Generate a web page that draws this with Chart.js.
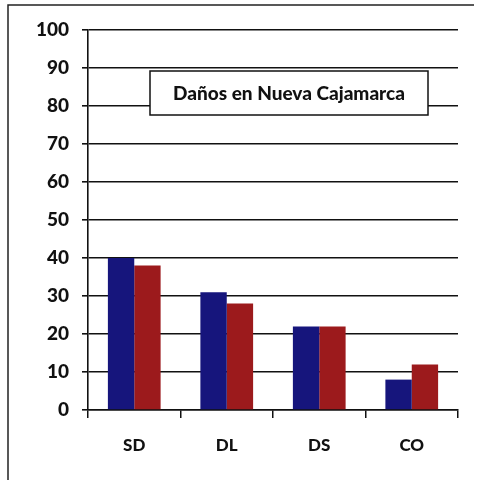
<!DOCTYPE html>
<html>
<head>
<meta charset="utf-8">
<script src="https://cdn.jsdelivr.net/npm/chart.js@4"></script>
<style>
  html, body { margin: 0; padding: 0; background: #fff; }
  #wrap { width: 477px; height: 480px; position: relative; }
</style>
</head>
<body>
<div id="wrap"><canvas id="c"></canvas></div>
<script>
// Damage categories and the two series per category
const categories = ['SD', 'DL', 'DS', 'CO'];
const seriesA = [40, 31, 22, 8];
const seriesB = [38, 28, 22, 12];
const yTicks = [0, 10, 20, 30, 40, 50, 60, 70, 80, 90, 100];
const chartTitle = 'Daños en Nueva Cajamarca';

const FONT = 'Lato, "Liberation Sans", sans-serif';

// Outer frame (left and top edges) and boxed title inside the plot
const decorations = {
  id: 'decorations',
  afterDraw(chart) {
    const ctx = chart.ctx;
    ctx.save();
    ctx.strokeStyle = '#222';
    ctx.lineWidth = 1.5;
    ctx.beginPath();
    ctx.moveTo(8, 480);
    ctx.lineTo(8, 5);
    ctx.lineTo(474, 5);
    ctx.stroke();

    const bx = 150, by = 71, bw = 278, bh = 44;
    ctx.fillStyle = '#fff';
    ctx.fillRect(bx, by, bw, bh);
    ctx.strokeStyle = '#111';
    ctx.lineWidth = 1.5;
    ctx.strokeRect(bx, by, bw, bh);
    ctx.fillStyle = '#111';
    ctx.font = '900 19px ' + FONT;
    ctx.textAlign = 'center';
    ctx.textBaseline = 'middle';
    ctx.fillText(chartTitle, bx + bw / 2, by + bh / 2 + 1);
    ctx.restore();
  }
};

new Chart(document.getElementById('c'), {
  type: 'bar',
  data: {
    labels: categories,
    datasets: [
      { data: seriesA, backgroundColor: '#16157c', borderWidth: 0 },
      { data: seriesB, backgroundColor: '#9c1a1c', borderWidth: 0 }
    ]
  },
  options: {
    responsive: true,
    maintainAspectRatio: false,
    animation: false,
    layout: { padding: { top: 30, right: 19, bottom: 0, left: 0 } },
    datasets: { bar: { categoryPercentage: 0.57, barPercentage: 1.0 } },
    plugins: { legend: { display: false }, tooltip: { enabled: false } },
    scales: {
      x: {
        grid: {
          offset: true,
          drawOnChartArea: false,
          color: '#111',
          lineWidth: 1.5,
          tickLength: 8
        },
        border: { color: '#111', width: 1.5 },
        ticks: {
          color: '#111',
          padding: 17,
          font: { family: FONT, size: 17, weight: '900' }
        },
        afterFit(scale) { scale.height = 70; }
      },
      y: {
        min: 0,
        max: 100,
        afterBuildTicks(scale) { scale.ticks = yTicks.map(v => ({ value: v })); },
        grid: { color: '#111', lineWidth: 1.6, tickLength: 6 },
        border: { color: '#111', width: 1.6 },
        ticks: {
          color: '#111',
          padding: 13,
          font: { family: FONT, size: 19, weight: '900' }
        },
        afterFit(scale) { scale.width = 88; }
      }
    }
  },
  plugins: [decorations]
});
</script>
</body>
</html>
